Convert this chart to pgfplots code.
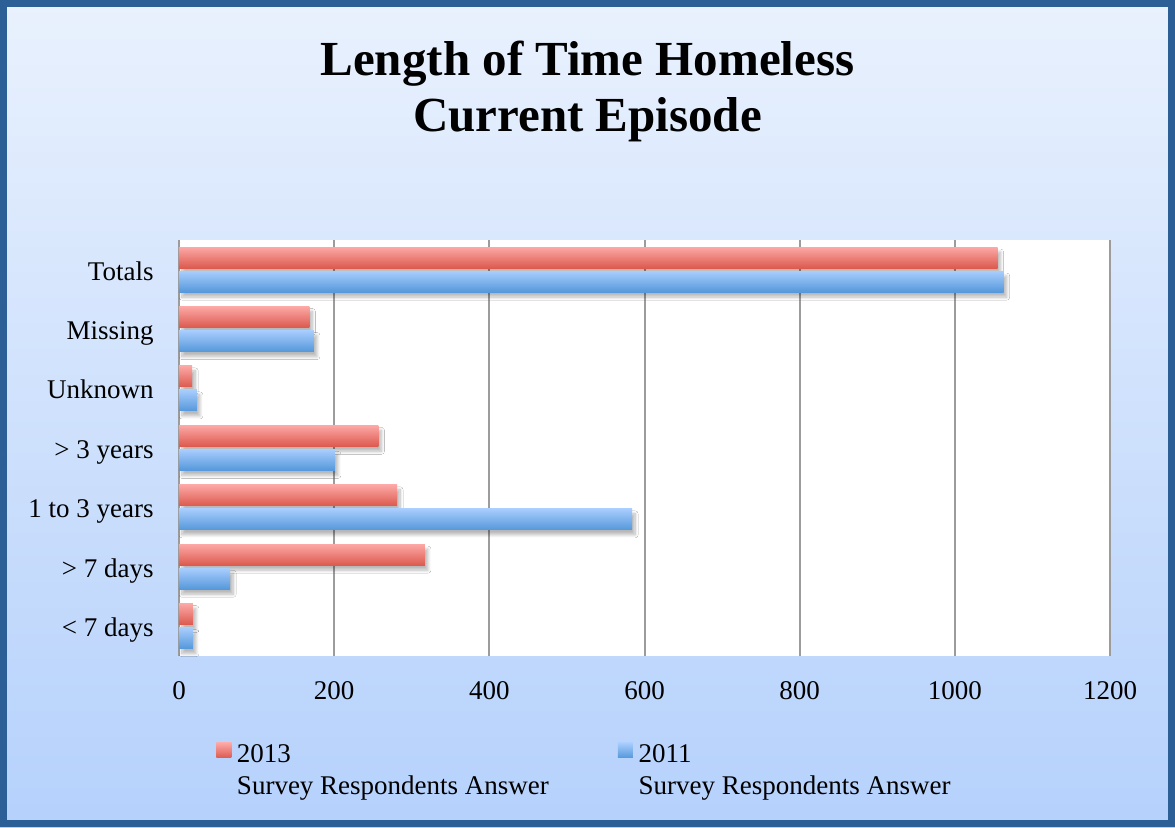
\documentclass[border=0pt]{standalone}
\usepackage{pgfplots}
\pgfplotsset{compat=1.18}
\usepackage{fontspec}
\setmainfont{Liberation Serif}
\usetikzlibrary{shadows.blur}
\definecolor{redtop}{HTML}{FCA8A5}
\definecolor{redbot}{HTML}{DC5A4F}
\definecolor{bluetop}{HTML}{A8CDFD}
\definecolor{bluebot}{HTML}{5598DB}
\definecolor{bgtop}{HTML}{E9F1FD}
\definecolor{bgbot}{HTML}{B5D1FC}
\definecolor{framecol}{HTML}{2B5F96}
\definecolor{gridgray}{HTML}{9C9C9C}
\pgfplotsset{
  barshadow/.style={blur shadow={shadow xshift=1.5pt, shadow yshift=-2.5pt, shadow blur radius=1.5pt, shadow blur steps=10, shadow opacity=28}},
  redbar/.style={xbar, draw=none, top color=redtop, bottom color=redbot, bar shift=0.205, forget plot, barshadow},
  bluebar/.style={xbar, draw=none, top color=bluetop, bottom color=bluebot, bar shift=-0.2, forget plot, barshadow},
}
\begin{document}
\begin{tikzpicture}
\shade[top color=bgtop, bottom color=bgbot] (0pt,0pt) rectangle (587.5pt,413.5pt);
\draw[framecol, line width=3.5pt] (1.75pt,1.75pt) rectangle (585.75pt,411.75pt);
\node[font=\fontsize{24.5}{28}\selectfont\bfseries, anchor=base, inner sep=0pt] at (293.75pt,375.6pt) {Length of Time Homeless};
\node[font=\fontsize{24.5}{28}\selectfont\bfseries, anchor=base, inner sep=0pt] at (293.75pt,348pt) {Current Episode};
\begin{axis}[
  at={(89.5pt,85.5pt)}, anchor=south west,
  scale only axis, width=465.5pt, height=208pt,
  xbar, bar width=0.353,
  xmin=0, xmax=1200, ymin=-0.5, ymax=6.5,
  xtick={0,200,400,600,800,1000,1200},
  ytick={0,1,2,3,4,5,6},
  yticklabels={< 7 days, > 7 days, 1 to 3 years, > 3 years, Unknown, Missing, Totals},
  axis background/.style={fill=white},
  axis line style={draw=none},
  major tick length=0pt,
  xmajorgrids, ymajorgrids=false,
  grid style={gridgray, line width=1pt},
  tick label style={font=\fontsize{13.5}{16}\selectfont, text=black},
  /pgf/number format/assume math mode=true,
  /pgf/number format/1000 sep={},
  xticklabel style={inner sep=0pt, anchor=north},
  xticklabel shift=12.5pt,
  yticklabel style={inner sep=0pt, anchor=east, text height=10.3pt, text depth=0pt},
  yticklabel shift=12.5pt,
  legend style={draw=none, fill=none, inner sep=0pt, at={(0,0)}, anchor=north west,
    xshift=18.5pt, yshift=-43.25pt,
    font=\fontsize{13.5}{16.2}\selectfont,
    nodes={inner sep=0pt, align=left},
    /tikz/every odd column/.style={column sep=2.8pt},
    /tikz/every even column/.style={column sep=34.5pt}},
  legend columns=2,
  legend cell align=left,
]
% 2013 series (red)
\addplot[redbar] coordinates {(1055,6)};
\addplot[redbar] coordinates {(168,5)};
\addplot[redbar] coordinates {(17,4)};
\addplot[redbar] coordinates {(257,3)};
\addplot[redbar] coordinates {(281,2)};
\addplot[redbar] coordinates {(317,1)};
\addplot[redbar] coordinates {(18,0)};
% 2011 series (blue)
\addplot[bluebar] coordinates {(1063,6)};
\addplot[bluebar] coordinates {(174,5)};
\addplot[bluebar] coordinates {(23,4)};
\addplot[bluebar] coordinates {(201,3)};
\addplot[bluebar] coordinates {(584,2)};
\addplot[bluebar] coordinates {(66,1)};
\addplot[bluebar] coordinates {(18,0)};
\addlegendimage{legend image code/.code={\shade[draw=none, top color=redtop,bottom color=redbot] (0pt,6.6pt) rectangle (7.5pt,14.1pt);}}
\addlegendentry{2013\\Survey Respondents Answer}
\addlegendimage{legend image code/.code={\shade[draw=none, top color=bluetop,bottom color=bluebot] (0pt,6.6pt) rectangle (7.5pt,14.1pt);}}
\addlegendentry{2011\\Survey Respondents Answer}
\end{axis}
\end{tikzpicture}
\end{document}
